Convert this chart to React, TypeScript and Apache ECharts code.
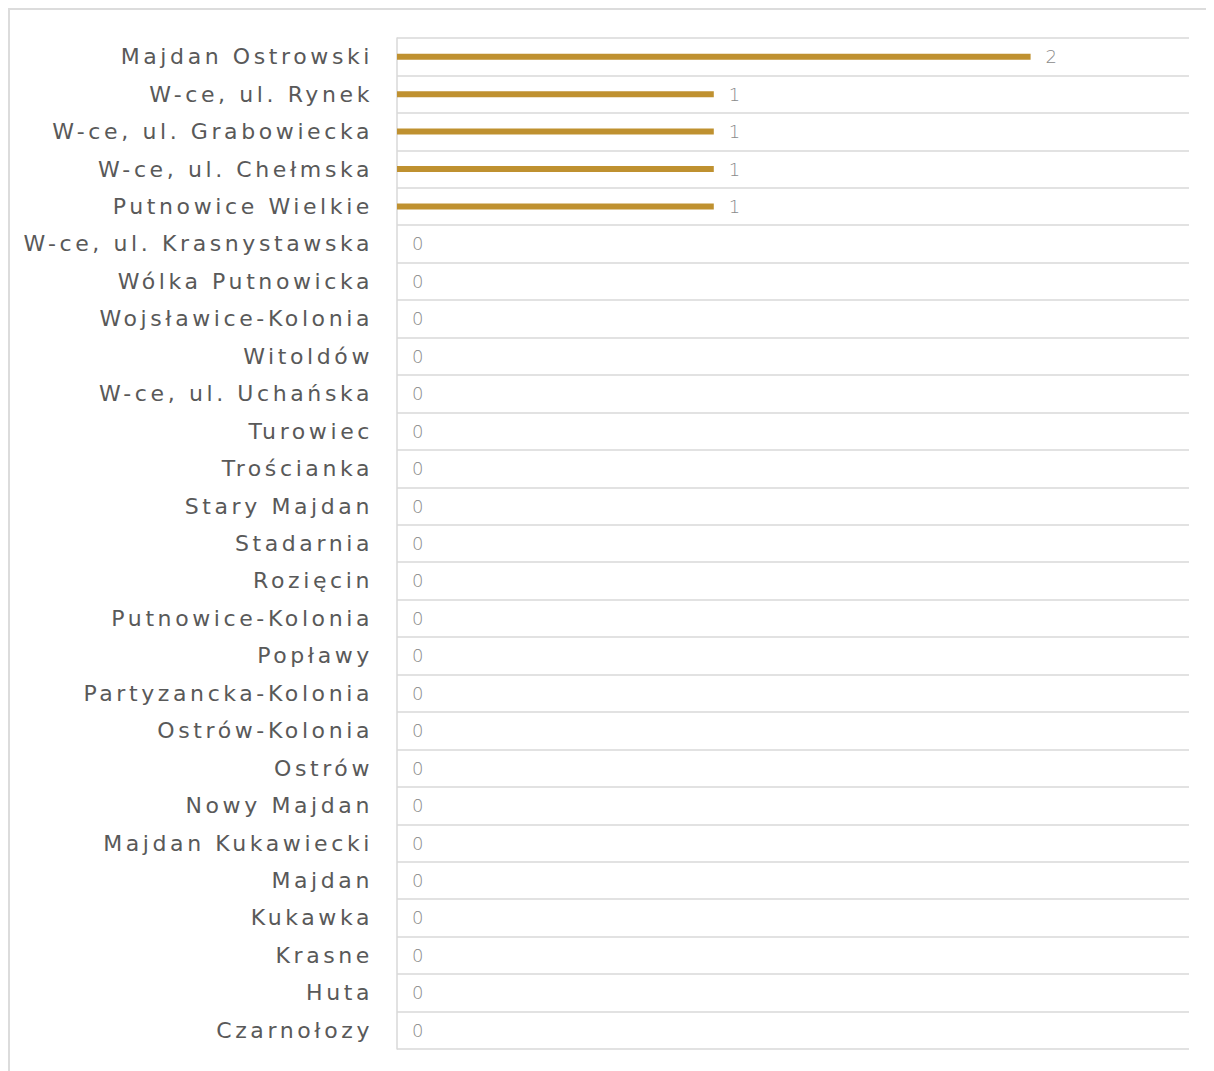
import React, { useEffect, useRef } from "react";
import * as echarts from "echarts";

const categories: string[] = [
  "Majdan Ostrowski",
  "W-ce, ul. Rynek",
  "W-ce, ul. Grabowiecka",
  "W-ce, ul. Chełmska",
  "Putnowice Wielkie",
  "W-ce, ul. Krasnystawska",
  "Wólka Putnowicka",
  "Wojsławice-Kolonia",
  "Witoldów",
  "W-ce, ul. Uchańska",
  "Turowiec",
  "Trościanka",
  "Stary Majdan",
  "Stadarnia",
  "Rozięcin",
  "Putnowice-Kolonia",
  "Popławy",
  "Partyzancka-Kolonia",
  "Ostrów-Kolonia",
  "Ostrów",
  "Nowy Majdan",
  "Majdan Kukawiecki",
  "Majdan",
  "Kukawka",
  "Krasne",
  "Huta",
  "Czarnołozy",
];

const values: number[] = [2, 1, 1, 1, 1, 0, 0, 0, 0, 0, 0, 0, 0, 0, 0, 0, 0, 0, 0, 0, 0, 0, 0, 0, 0, 0, 0];

const FONT = "'DejaVu Sans', sans-serif";

export default function App() {
  const ref = useRef<HTMLDivElement>(null);
  useEffect(() => {
    document.documentElement.style.overflow = "hidden";
    document.body.style.overflow = "hidden";
    const chart = echarts.init(ref.current!, null, { renderer: "svg" });
    chart.setOption({
      animation: false,
      grid: { left: 387, top: 28, right: 25, bottom: 22 },
      xAxis: {
        type: "value",
        min: 0,
        max: 2.5,
        show: false,
        splitLine: { show: false },
      },
      yAxis: {
        type: "category",
        data: categories,
        inverse: true,
        axisLine: { show: true, lineStyle: { color: "#d9d9d9", width: 1.5 } },
        axisTick: { show: false },
        splitLine: { show: true, lineStyle: { color: "#d9d9d9", width: 1.5 } },
        axisLabel: {
          color: "#595959",
          fontFamily: FONT,
          fontSize: 22,
          margin: 24,
        },
      },
      series: [
        {
          type: "bar",
          data: values,
          barWidth: 6,
          itemStyle: { color: "#BF9130" },
          label: {
            show: true,
            position: "right",
            distance: 15,
            color: "#8a8a8a",
            fontFamily: FONT,
            fontSize: 18,
            fontWeight: 300,
          },
        },
      ],
    });
    return () => chart.dispose();
  }, []);
  return (
    <div
      style={{
        width: 1212,
        height: 1061,
        borderTop: "2px solid #dcdcdc",
        borderLeft: "2px solid #dcdcdc",
        letterSpacing: "3.6px",
        overflow: "hidden",
      }}
    >
      <div ref={ref} style={{ width: 1204, height: 1061 }} />
    </div>
  );
}
